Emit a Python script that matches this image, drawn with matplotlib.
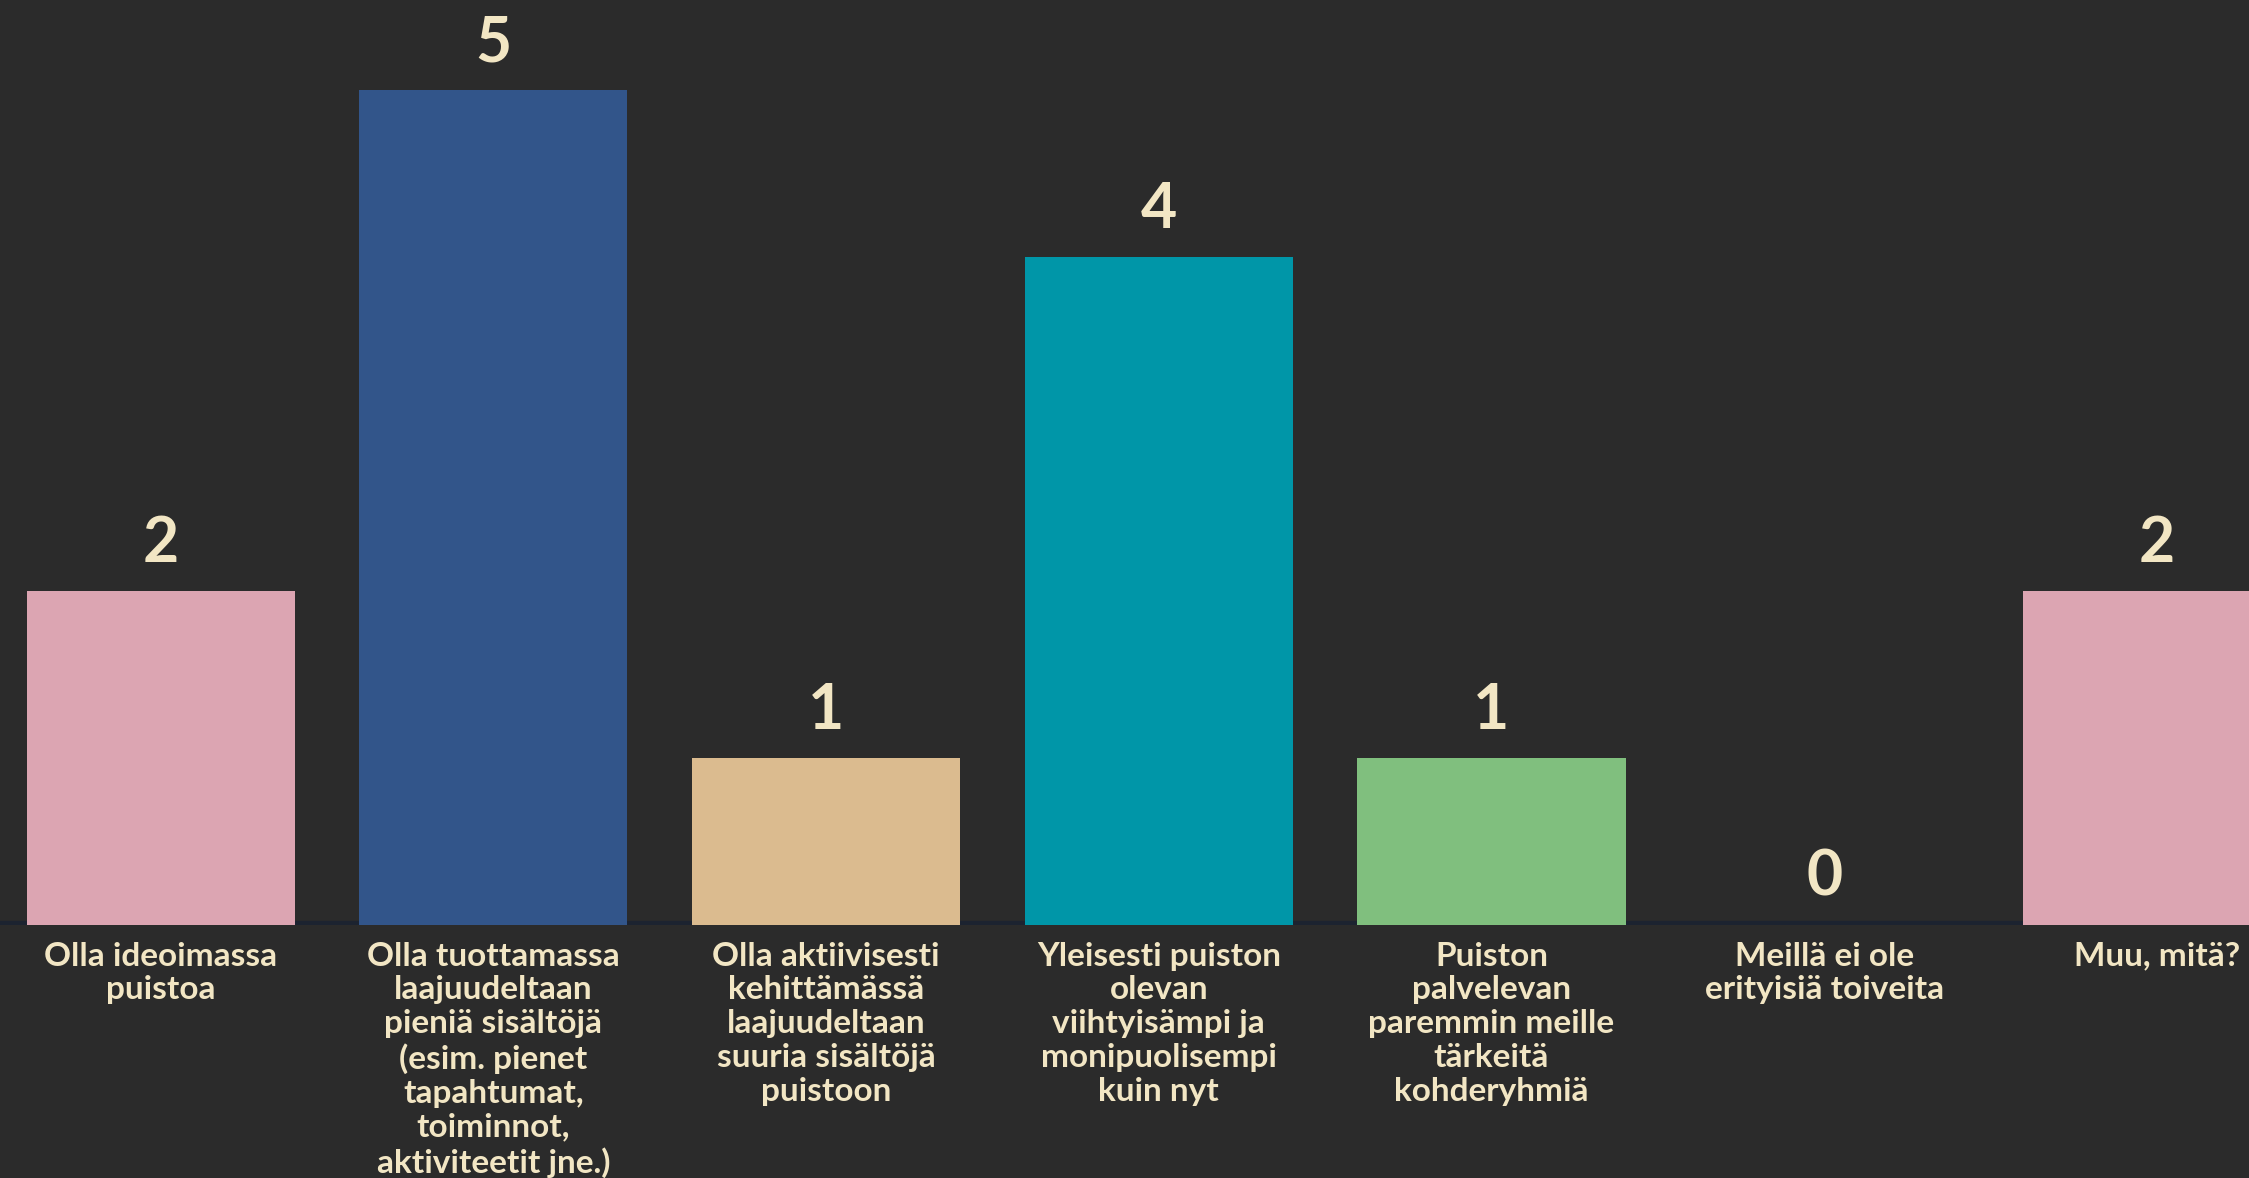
import numpy as np
import matplotlib.pyplot as plt

# Survey answers and their counts
categories = [
    "Olla ideoimassa\npuistoa",
    "Olla tuottamassa\nlaajuudeltaan\npieniä sisältöjä\n(esim. pienet\ntapahtumat,\ntoiminnot,\naktiviteetit jne.)",
    "Olla aktiivisesti\nkehittämässä\nlaajuudeltaan\nsuuria sisältöjä\npuistoon",
    "Yleisesti puiston\nolevan\nviihtyisämpi ja\nmonipuolisempi\nkuin nyt",
    "Puiston\npalvelevan\nparemmin meille\ntärkeitä\nkohderyhmiä",
    "Meillä ei ole\nerityisiä toiveita",
    "Muu, mitä?",
]
counts = [2, 5, 1, 4, 1, 0, 2]
bar_colors = ["#dca5b2", "#32558a", "#dbbb8f", "#0096a8", "#80bf7e", "#dca5b2", "#dca5b2"]

bg = "#2b2b2b"
text_col = "#f2e6c4"
font = "Lato"

fig = plt.figure(figsize=(22.49, 11.78), dpi=100, facecolor=bg)
ax = fig.add_axes([0, 0.2148, 1, 0.7852])
ax.set_facecolor(bg)

x = np.arange(len(categories))
ax.bar(x, counts, width=0.806, color=bar_colors, zorder=2)
ax.axhline(0, color="#1c2330", lw=6, zorder=1)

# value labels above the bars
for xi, c in zip(x, counts):
    ax.annotate(str(c), (xi, c), xytext=(0, 13), textcoords="offset points",
                ha="center", va="bottom", fontsize=45, color=text_col,
                family=font, weight="bold")

# category labels under the axis line
for xi, lab in zip(x, categories):
    ax.annotate(lab, (xi, 0), xytext=(0, -12), textcoords="offset points",
                ha="center", va="top", fontsize=24, color=text_col,
                family=font, weight="bold", linespacing=1.2,
                annotation_clip=False)

ax.set_xlim(-0.483, 6.277)
ax.set_ylim(0, 5.54)
ax.axis("off")

fig.savefig("out.png", facecolor=bg)
